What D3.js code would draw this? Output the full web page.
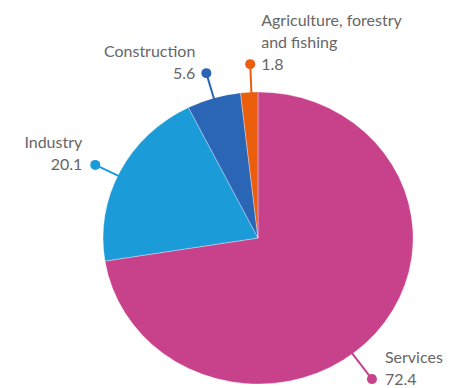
<!DOCTYPE html>
<html>
<head>
<meta charset="utf-8">
<script src="https://cdn.jsdelivr.net/npm/d3@7"></script>
<style>
  html, body { margin: 0; padding: 0; background: #fff; }
  svg { display: block; }
  text { font-family: "Lato", "Open Sans", sans-serif; fill: #666666; }
</style>
</head>
<body>
<svg id="chart" width="459" height="388"></svg>
<script>
// Share of employment by sector (%)
const sectors = ["Services", "Industry", "Construction", "Agriculture, forestry and fishing"];
const shares = [72.4, 20.1, 5.6, 1.8];
const labelLines = [["Services"], ["Industry"], ["Construction"], ["Agriculture, forestry", "and fishing"]];
const valueLabels = ["72.4", "20.1", "5.6", "1.8"];

const colors = ["#c8418b", "#1b9bd8", "#2a66b5", "#ea5e0d"];

// Label placement: leader angle shift from slice middle (deg), leader length,
// text side of the dot, text gap from the dot.
const leaderShift = [12, -1.8, 0, 0.8];
const leaderLen = [32, 25, 26, 28];
const textSide = ["right", "left", "left", "right"];
const textGap = [13, 13, 11, 11];

const cx = 258, cy = 238, rx = 155, ry = 146;

const svg = d3.select("#chart");

const data = sectors.map((s, i) => ({ name: s, value: shares[i], i }));

const pie = d3.pie().value(d => d.value).sort(null).startAngle(0).endAngle(2 * Math.PI);
const arcs = pie(data);

// Unit-radius arc, stretched into the ellipse by the group transform
const arc = d3.arc().innerRadius(0).outerRadius(1);

const pieG = svg.append("g")
  .attr("transform", `translate(${cx},${cy}) scale(${rx},${ry})`);

pieG.selectAll("path")
  .data(arcs)
  .join("path")
  .attr("d", arc)
  .attr("fill", d => colors[d.data.i])
  .attr("stroke", "rgba(255,255,255,0.45)")
  .attr("stroke-width", 0.7)
  .attr("vector-effect", "non-scaling-stroke");

// Leaders and labels
const labelG = svg.append("g");

arcs.forEach(a => {
  const i = a.data.i;
  const ang = (a.startAngle + a.endAngle) / 2 + leaderShift[i] * Math.PI / 180;
  const s = Math.sin(ang), c = -Math.cos(ang);
  const x0 = cx + rx * s, y0 = cy + ry * c;
  const x1 = cx + (rx + leaderLen[i]) * s, y1 = cy + (ry + leaderLen[i]) * c;

  labelG.append("line")
    .attr("x1", x0 - 3 * s).attr("y1", y0 - 3 * c)
    .attr("x2", x1).attr("y2", y1)
    .attr("stroke", colors[i])
    .attr("stroke-width", 2);

  labelG.append("circle")
    .attr("cx", x1).attr("cy", y1).attr("r", 5)
    .attr("fill", colors[i]);

  const right = textSide[i] === "right";
  const tx = right ? x1 + textGap[i] : x1 - textGap[i];
  const anchor = right ? "start" : "end";
  const lines = labelLines[i].concat([valueLabels[i]]);
  const lh = 22;
  const baseLast = y1 + 5.5;

  const t = labelG.append("text")
    .attr("text-anchor", anchor)
    .attr("font-size", 16);
  lines.forEach((ln, k) => {
    t.append("tspan")
      .attr("x", tx)
      .attr("y", baseLast - (lines.length - 1 - k) * lh)
      .text(ln);
  });
});
</script>
</body>
</html>
